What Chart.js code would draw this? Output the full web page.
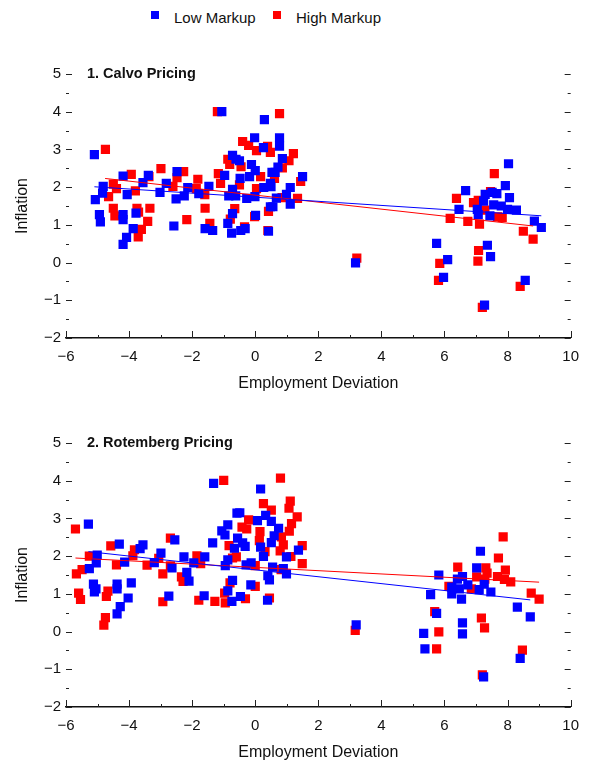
<!DOCTYPE html>
<html>
<head>
<meta charset="utf-8">
<script src="https://cdn.jsdelivr.net/npm/chart.js@4/dist/chart.umd.min.js"></script>
<style>
    body { margin: 0; background: #fff; width: 589px; height: 761px; overflow: hidden; position: relative;
           font-family: "Liberation Sans", Arial, sans-serif; }
    .quadrado { position: absolute; width: 8px; height: 8px; top: 11px; }
    .rotulo { position: absolute; top: 8px; font-size: 15px; line-height: 20px; color: #111; }
    .painel { position: absolute; left: 0; width: 589px; height: 400px; }
</style>
</head>
<body>

<div class="quadrado" style="left:151px;background:#0000ff"></div>
<div class="rotulo" style="left:174px">Low Markup</div>
<div class="quadrado" style="left:273px;background:#ff0000"></div>
<div class="rotulo" style="left:296px">High Markup</div>

<div class="painel" style="top:0px"><canvas id="graficoCalvo"></canvas></div>
<div class="painel" style="top:369px"><canvas id="graficoRotemberg"></canvas></div>

<script>
// Dados: [desvio do emprego, inflação]
const calvoBaixo = [
    [-5.10, 2.86], [-1.06, 4.00], [-4.19, 2.29], [-3.39, 2.31], [-2.48, 2.41], [-0.97, 2.31], [-0.72, 2.84],
    [-4.82, 2.02], [-4.84, 1.84], [-5.07, 1.67], [-4.06, 1.80], [-3.56, 2.12], [-3.02, 1.86], [-2.82, 2.10],
    [-2.51, 1.69], [-2.25, 1.77], [-2.14, 1.99], [-1.79, 1.83], [-1.47, 2.02], [-0.72, 1.94], [-0.84, 1.77],
    [-0.62, 1.77], [-4.94, 1.27], [-4.91, 1.08], [-4.19, 1.27], [-4.19, 1.14], [-3.78, 1.31], [-3.87, 0.90],
    [-4.08, 0.67], [-4.19, 0.48], [-2.58, 0.97], [-1.59, 0.90], [-1.35, 0.85], [-0.72, 1.30], [-0.87, 1.04],
    [-0.75, 0.78],
    [0.29, 3.79], [-0.02, 3.31], [0.77, 3.31], [0.26, 3.05], [0.77, 3.09], [-0.61, 2.74], [-0.50, 2.70],
    [-0.12, 2.60], [0.00, 2.44], [-0.18, 2.28], [-0.48, 2.23], [0.86, 2.76], [0.72, 2.53], [0.53, 2.39],
    [0.63, 2.39], [0.48, 2.10], [0.27, 1.99], [0.50, 2.01], [1.50, 2.28], [1.11, 1.99], [0.99, 1.81],
    [0.67, 1.71], [1.11, 1.55], [0.56, 1.48], [0.48, 1.48], [-0.27, 1.70], [-0.01, 1.75], [0.01, 1.25],
    [0.42, 0.83], [-0.46, 0.85], [-0.32, 0.90],
    [3.18, -0.01], [8.03, 2.62], [7.93, 2.04], [6.67, 1.91], [7.29, 1.81], [7.51, 1.86], [7.66, 1.83],
    [8.06, 1.72], [7.24, 1.63], [7.56, 1.53], [7.80, 1.50], [8.00, 1.41], [8.28, 1.39], [6.46, 1.41],
    [7.04, 1.41], [7.07, 1.27], [7.44, 1.24], [8.85, 1.10], [9.07, 0.93], [5.75, 0.51], [7.36, 0.46],
    [6.10, 0.08], [7.46, 0.16], [5.97, -0.39], [8.56, -0.47], [7.27, -1.13]
];
const calvoAlto = [
    [-1.20, 4.00], [-4.75, 3.00], [-3.93, 2.34], [-3.37, 2.28], [-2.99, 2.49], [-2.27, 2.41], [-1.17, 2.36],
    [-0.87, 2.74], [-0.81, 2.60], [-4.65, 1.75], [-4.50, 2.08], [-4.40, 1.96], [-3.80, 1.90], [-2.61, 2.02],
    [-2.48, 2.25], [-1.82, 2.21], [-1.87, 1.96], [-1.60, 1.80], [-1.10, 2.10], [-1.59, 1.44], [-4.50, 1.44],
    [-4.45, 1.24], [-3.75, 1.44], [-3.70, 1.34], [-3.34, 1.44], [-3.41, 1.09], [-3.61, 0.88], [-3.71, 0.68],
    [-2.17, 1.14], [-1.44, 1.04], [-0.79, 1.15],
    [0.77, 3.95], [-0.40, 3.21], [-0.21, 3.11], [0.04, 2.97], [0.39, 3.08], [0.48, 2.92], [1.21, 2.89],
    [-0.45, 2.54], [0.17, 2.28], [-0.50, 2.06], [0.86, 2.51], [1.07, 2.70], [0.61, 2.23], [1.44, 2.15],
    [1.34, 1.70], [0.85, 1.72], [0.42, 1.36], [0.04, 1.96], [-0.65, 1.43], [0.40, 0.85], [-0.34, 0.95],
    [-0.02, 1.22],
    [3.22, 0.12], [7.58, 2.36], [6.38, 1.70], [7.46, 1.88], [6.92, 1.59], [7.07, 1.65], [7.28, 1.39],
    [7.68, 1.21], [7.83, 1.20], [6.18, 1.17], [6.74, 1.09], [7.11, 1.02], [8.50, 0.83], [8.81, 0.62],
    [7.08, 0.32], [5.85, -0.02], [7.06, 0.04], [5.81, -0.47], [8.40, -0.63], [7.20, -1.19]
];
const rotembergBaixo = [
    [-5.29, 2.85], [-1.32, 3.93], [-4.31, 2.32], [-3.65, 2.20], [-3.56, 2.30], [-2.55, 2.43], [-2.99, 2.08],
    [-2.26, 1.98], [-1.60, 1.98], [-1.35, 2.35], [-1.06, 2.67], [-0.96, 2.56], [-0.87, 2.83], [-0.58, 3.14],
    [-0.66, 2.21], [-0.87, 1.90], [-5.01, 2.03], [-5.04, 1.82], [-5.26, 1.67], [-4.14, 1.84], [-3.20, 1.83],
    [-2.64, 1.69], [-2.17, 1.57], [-2.10, 1.34], [-1.95, 1.82], [-5.13, 1.26], [-5.05, 1.13], [-5.10, 1.05],
    [-4.38, 1.26], [-4.38, 1.13], [-3.93, 1.29], [-4.03, 0.89], [-4.28, 0.66], [-4.38, 0.47], [-2.74, 0.94],
    [-1.62, 0.95], [-0.74, 0.80], [-0.87, 1.08], [-0.72, 1.36],
    [0.17, 3.78], [-0.49, 3.15], [0.33, 3.08], [0.07, 2.94], [0.51, 2.92], [0.74, 2.74], [0.60, 2.54],
    [-0.56, 2.48], [-0.40, 2.35], [0.51, 2.36], [1.37, 2.16], [-0.32, 2.26], [0.17, 2.24], [0.26, 1.99],
    [0.99, 1.98], [-0.13, 1.82], [-0.95, 1.75], [-0.29, 1.77], [0.55, 1.71], [0.89, 1.67], [0.99, 1.53],
    [0.40, 1.48], [0.45, 1.37], [-0.14, 1.24], [-0.47, 0.93], [0.39, 0.83],
    [7.14, 2.13], [7.02, 1.69], [5.82, 1.50], [6.57, 1.46], [6.41, 1.39], [6.74, 1.24], [6.23, 1.18],
    [6.47, 1.13], [7.26, 1.26], [7.10, 1.11], [7.47, 1.05], [6.23, 1.00], [6.54, 0.86], [5.56, 0.98],
    [8.31, 0.65], [8.72, 0.39], [5.75, 0.48], [6.57, 0.23], [6.57, -0.06], [3.20, 0.18], [5.34, -0.05],
    [5.38, -0.46], [8.40, -0.71], [7.24, -1.20]
];
const rotembergAlto = [
    [-5.70, 2.72], [-1.00, 4.01], [-4.58, 2.27], [-3.83, 2.17], [-2.69, 2.48], [-3.06, 1.94], [-1.85, 2.01],
    [-0.83, 2.28], [-5.26, 2.00], [-5.49, 1.64], [-5.67, 1.53], [-4.40, 1.77], [-3.88, 2.01], [-3.43, 1.76],
    [-2.69, 1.74], [-2.93, 1.53], [-2.34, 1.45], [-1.73, 1.80], [-5.60, 1.02], [-5.54, 0.85], [-4.67, 1.07],
    [-4.72, 0.93], [-4.75, 0.37], [-4.80, 0.17], [-2.93, 0.79], [-1.79, 0.83], [-1.28, 0.80], [-0.95, 0.76],
    [-0.72, 1.95], [-2.29, 1.33],
    [0.80, 4.07], [0.26, 3.39], [0.51, 3.22], [1.11, 3.46], [1.07, 3.27], [1.33, 3.04], [-0.21, 2.96],
    [1.15, 2.86], [1.08, 2.66], [-0.42, 2.77], [-0.27, 2.72], [0.15, 2.65], [0.83, 2.51], [0.13, 2.41],
    [0.89, 2.30], [1.49, 2.28], [0.79, 2.14], [0.31, 2.12], [1.13, 1.99], [-0.60, 1.98], [0.82, 1.64],
    [1.49, 1.80], [0.00, 1.20], [-0.97, 1.02], [-0.31, 0.87], [0.45, 0.89], [0.00, 1.75], [-0.80, 1.29],
    [7.86, 2.51], [7.71, 1.95], [6.42, 1.71], [7.31, 1.69], [7.35, 1.55], [7.93, 1.63], [7.02, 1.45],
    [7.68, 1.46], [7.90, 1.38], [8.10, 1.32], [6.14, 1.20], [6.85, 1.13], [8.75, 1.02], [9.00, 0.86],
    [5.69, 0.53], [7.17, 0.36], [7.27, 0.10], [5.82, -0.01], [3.17, 0.03], [5.75, -0.46], [8.47, -0.49],
    [7.20, -1.15], [7.28, 1.39]
];

// Retas de regressão (extremos)
const retaCalvoBaixo = [[-5.10, 2.01], [9.07, 1.24]];
const retaCalvoAlto = [[-4.76, 2.23], [8.81, 0.97]];
const retaRotembergBaixo = [[-5.29, 2.12], [8.72, 0.84]];
const retaRotembergAlto = [[-5.70, 1.95], [9.00, 1.31]];

// Eixos
const limitesX = [-6, 10];
const limitesY = [-2, 5];
const fonte = '"Liberation Sans", Arial, sans-serif';

function pontos(lista) {
    return lista.map(p => ({ x: p[0], y: p[1] }));
}

// Marcas dos eixos (maiores nos inteiros/pares, menores no meio) e título do painel
const marcasEixos = {
    id: 'marcasEixos',
    afterDraw(chart, args, opts) {
        const { ctx, chartArea } = chart;
        const sx = chart.scales.x, sy = chart.scales.y;
        ctx.save();
        ctx.strokeStyle = '#222';
        ctx.lineWidth = 1;
        ctx.beginPath();
        for (let v = limitesY[0]; v <= limitesY[1]; v += 0.5) {
            const py = Math.round(sy.getPixelForValue(v)) + 0.5;
            const tam = Number.isInteger(v) ? 6 : 3;
            ctx.moveTo(chartArea.left, py);
            ctx.lineTo(chartArea.left + tam, py);
            ctx.moveTo(chartArea.right - tam, py);
            ctx.lineTo(chartArea.right, py);
        }
        for (let v = limitesX[0]; v <= limitesX[1]; v += 1) {
            const px = Math.round(sx.getPixelForValue(v)) + 0.5;
            const tam = v % 2 === 0 ? 7 : 3;
            ctx.moveTo(px, chartArea.bottom);
            ctx.lineTo(px, chartArea.bottom - tam);
        }
        ctx.stroke();

        ctx.fillStyle = '#111';
        ctx.font = 'bold 14.5px ' + fonte;
        ctx.textBaseline = 'middle';
        ctx.fillText(opts.texto, chartArea.left + 21, sy.getPixelForValue(limitesY[1]));
        ctx.restore();
    }
};

function criaGrafico(idCanvas, titulo, baixo, alto, retaBaixo, retaAlto) {
    const ctx = document.getElementById(idCanvas).getContext('2d');
    return new Chart(ctx, {
        type: 'scatter',
        data: {
            datasets: [
                { label: 'reta baixo', type: 'line', data: pontos(retaBaixo), borderColor: '#0000ff', borderWidth: 1,
                  pointRadius: 0, fill: false, order: 0 },
                { label: 'reta alto', type: 'line', data: pontos(retaAlto), borderColor: '#ff0000', borderWidth: 1,
                  pointRadius: 0, fill: false, order: 0 },
                { label: 'Low Markup', data: pontos(baixo), pointStyle: 'rect', pointRadius: 6.5,
                  backgroundColor: '#0000ff', borderWidth: 0, order: 1 },
                { label: 'High Markup', data: pontos(alto), pointStyle: 'rect', pointRadius: 6.5,
                  backgroundColor: '#ff0000', borderWidth: 0, order: 2 }
            ]
        },
        options: {
            responsive: true,
            maintainAspectRatio: false,
            animation: false,
            layout: { padding: { top: 74, right: 16, left: 0, bottom: 0 } },
            plugins: {
                legend: { display: false },
                tooltip: { enabled: false },
                marcasEixos: { texto: titulo }
            },
            scales: {
                x: {
                    type: 'linear',
                    min: limitesX[0],
                    max: limitesX[1],
                    grid: { display: false, drawTicks: false },
                    border: { display: true, color: '#111', width: 1.5 },
                    ticks: {
                        stepSize: 2, autoSkip: false, padding: 10, color: '#111',
                        font: { family: fonte, size: 15 },
                        callback: v => String(v).replace('-', '\u2212')
                    },
                    title: {
                        display: true, text: 'Employment Deviation', color: '#111',
                        font: { family: fonte, size: 16 }, padding: { top: 0, bottom: 7 }
                    },
                    afterFit: s => { s.height = 62; }
                },
                y: {
                    type: 'linear',
                    min: limitesY[0],
                    max: limitesY[1],
                    grid: { display: false, drawTicks: false },
                    border: { display: false },
                    ticks: {
                        stepSize: 1, autoSkip: false, padding: 5, color: '#111',
                        font: { family: fonte, size: 15 },
                        callback: v => String(v).replace('-', '\u2212')
                    },
                    title: {
                        display: true, text: 'Inflation', color: '#111',
                        font: { family: fonte, size: 16 }, padding: { top: 13, bottom: 0 }
                    },
                    afterFit: s => { s.width = 66; }
                }
            }
        },
        plugins: [marcasEixos]
    });
}

criaGrafico('graficoCalvo', '1. Calvo Pricing', calvoBaixo, calvoAlto, retaCalvoBaixo, retaCalvoAlto);
criaGrafico('graficoRotemberg', '2. Rotemberg Pricing', rotembergBaixo, rotembergAlto, retaRotembergBaixo, retaRotembergAlto);
</script>
</body>
</html>
